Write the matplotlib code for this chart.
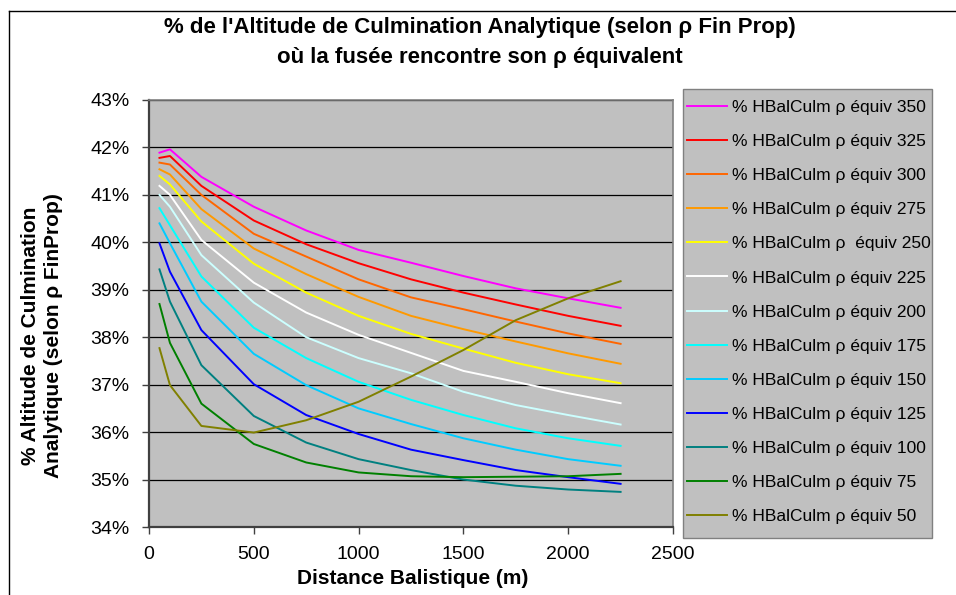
import matplotlib
matplotlib.use("Agg")
import matplotlib.pyplot as plt
from matplotlib.ticker import FuncFormatter, MultipleLocator
from matplotlib.lines import Line2D
from matplotlib.patches import Rectangle

plt.rcParams['font.family'] = ['Liberation Sans', 'DejaVu Sans']

# distance balistique (m)
dist = [50, 100, 250, 500, 750, 1000, 1250, 1500, 1750, 2000, 2250]

# % altitude de culmination, one list per rho equivalent
rho350 = [41.89, 41.96, 41.38, 40.75, 40.25, 39.84, 39.57, 39.29, 39.03, 38.82, 38.62]
rho325 = [41.78, 41.82, 41.19, 40.46, 39.96, 39.56, 39.22, 38.94, 38.69, 38.45, 38.24]
rho300 = [41.68, 41.64, 41.00, 40.18, 39.70, 39.22, 38.84, 38.59, 38.33, 38.08, 37.86]
rho275 = [41.54, 41.43, 40.70, 39.87, 39.33, 38.85, 38.45, 38.17, 37.91, 37.66, 37.44]
rho250 = [41.40, 41.22, 40.44, 39.55, 38.94, 38.45, 38.07, 37.76, 37.46, 37.22, 37.03]
rho225 = [41.19, 41.00, 40.05, 39.15, 38.52, 38.05, 37.67, 37.29, 37.06, 36.82, 36.61]
rho200 = [41.00, 40.75, 39.73, 38.73, 38.00, 37.56, 37.24, 36.85, 36.57, 36.36, 36.16]
rho175 = [40.72, 40.36, 39.28, 38.20, 37.56, 37.06, 36.68, 36.36, 36.08, 35.87, 35.71]
rho150 = [40.40, 39.98, 38.75, 37.65, 36.99, 36.50, 36.17, 35.87, 35.63, 35.43, 35.29]
rho125 = [39.98, 39.38, 38.15, 37.01, 36.36, 35.96, 35.63, 35.41, 35.20, 35.05, 34.91]
rho100 = [39.43, 38.75, 37.41, 36.34, 35.78, 35.43, 35.20, 35.00, 34.87, 34.79, 34.74]
rho75 = [38.70, 37.88, 36.60, 35.75, 35.36, 35.15, 35.07, 35.05, 35.06, 35.07, 35.12]
rho50 = [37.77, 36.99, 36.13, 35.99, 36.25, 36.64, 37.17, 37.73, 38.36, 38.82, 39.18]

series = [rho350, rho325, rho300, rho275, rho250, rho225, rho200,
          rho175, rho150, rho125, rho100, rho75, rho50]
labels = ["% HBalCulm ρ équiv 350", "% HBalCulm ρ équiv 325",
          "% HBalCulm ρ équiv 300", "% HBalCulm ρ équiv 275",
          "% HBalCulm ρ  équiv 250", "% HBalCulm ρ équiv 225",
          "% HBalCulm ρ équiv 200", "% HBalCulm ρ équiv 175",
          "% HBalCulm ρ équiv 150", "% HBalCulm ρ équiv 125",
          "% HBalCulm ρ équiv 100", "% HBalCulm ρ équiv 75",
          "% HBalCulm ρ équiv 50"]
colors = ['#FF00FF', '#FF0000', '#FF6600', '#FF9900', '#FFFF00', '#FFFFFF',
          '#CCFFFF', '#00FFFF', '#00CCFF', '#0000FF', '#008080', '#008000',
          '#808000']

W, H = 956, 595
fig = plt.figure(figsize=(W / 100, H / 100), dpi=100)
ax = fig.add_axes([149 / W, 1 - 527 / H, 524 / W, 427 / H])
ax.set_facecolor('#C0C0C0')

for s, lab, c in zip(series, labels, colors):
    ax.plot(dist, s, color=c, lw=1.4, label=lab)

ax.set_xlim(0, 2500)
ax.set_ylim(34, 43)
ax.xaxis.set_major_locator(MultipleLocator(500))
ax.yaxis.set_major_locator(MultipleLocator(1))
ax.yaxis.set_major_formatter(FuncFormatter(lambda v, p: "%d%%" % round(v)))
ax.grid(axis='y', color='#000000', lw=0.9)
ax.set_axisbelow(True)
ax.tick_params(labelsize=14, length=5, width=1, color='#404040',
               direction='out', pad=9)
for side in ['left', 'bottom']:
    ax.spines[side].set_color('#404040')
    ax.spines[side].set_linewidth(1.6)
for side in ['top', 'right']:
    ax.spines[side].set_color('#808080')
    ax.spines[side].set_linewidth(1.2)

ax.set_xlabel("Distance Balistique (m)", fontsize=15, fontweight='bold', va='center')
ax.xaxis.set_label_coords((413 - 149) / 524, -(578 - 527) / 427)
ax.set_ylabel("% Altitude de Culmination\nAnalytique (selon ρ FinProp)",
              fontsize=15, fontweight='bold', linespacing=1.3,
              va='center', ha='center')
ax.yaxis.set_label_coords((42 - 149) / 524, (527 - 336) / 427)

fig.text(480 / W, 1 - 28 / H, "% de l'Altitude de Culmination Analytique (selon ρ Fin Prop)",
         ha='center', va='center', fontsize=16, fontweight='bold')
fig.text(480 / W, 1 - 57 / H, "où la fusée rencontre son ρ équivalent",
         ha='center', va='center', fontsize=16, fontweight='bold')

# legend box drawn separately so its padding matches the original
fig.add_artist(Rectangle((683 / W, 1 - 538 / H), 249 / W, 449 / H,
                         transform=fig.transFigure, facecolor='#C0C0C0',
                         edgecolor='#808080', lw=1.0, zorder=1))
handles, labs = ax.get_legend_handles_labels()
leg = fig.legend(handles, labs, loc='upper left',
                 bbox_to_anchor=(687 / W, 1 - 100 / H), fontsize=12.5,
                 frameon=False, labelspacing=1.09, handlelength=2.3,
                 handletextpad=0.29, borderpad=0, borderaxespad=0)
leg.set_zorder(5)

# outer chart border (top and left visible)
fig.add_artist(Line2D([9 / W, 1], [1 - 11 / H, 1 - 11 / H], color='black', lw=1))
fig.add_artist(Line2D([9 / W, 9 / W], [0, 1 - 11 / H], color='black', lw=1))

fig.savefig("out.png", dpi=100)
